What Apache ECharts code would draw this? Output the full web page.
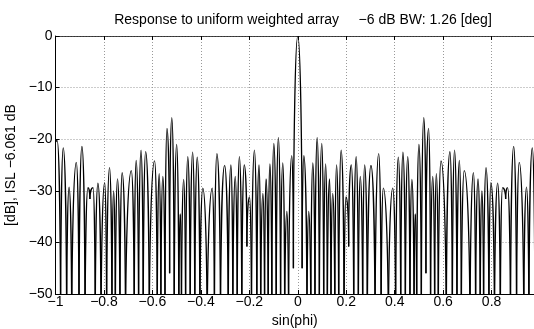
<!DOCTYPE html>
<html style="height: 100%">
<head>
    <meta charset="utf-8">
</head>
<body style="height: 100%; margin: 0; background: #fff">
<div id="container" style="width: 534px; height: 329px"></div>
<script type="text/javascript" src="https://cdn.jsdelivr.net/npm/echarts@6/dist/echarts.min.js"></script>
<script type="text/javascript">
    // key points of the response (lobe peaks and nulls)
    // nulls that run off the bottom of the axes are given as -60
    var sinPhi = [
        -1.000, -0.993, -0.979, -0.968, -0.954, -0.944, -0.933, -0.914, -0.903, -0.891,
        -0.878, -0.866, -0.858, -0.845, -0.836, -0.825, -0.812, -0.797, -0.789, -0.777,
        -0.767, -0.760, -0.753, -0.744, -0.734, -0.725, -0.711, -0.687, -0.675, -0.667,
        -0.657, -0.647, -0.638, -0.628, -0.613, -0.591, -0.580, -0.572, -0.565, -0.557,
        -0.548, -0.540, -0.529, -0.520, -0.510, -0.500, -0.491, -0.485, -0.480, -0.471,
        -0.463, -0.454, -0.444, -0.434, -0.425, -0.415, -0.404, -0.392, -0.374, -0.353,
        -0.344, -0.334, -0.319, -0.302, -0.287, -0.276, -0.268, -0.258, -0.250, -0.241,
        -0.231, -0.221, -0.210, -0.199, -0.191, -0.179, -0.169, -0.160, -0.153, -0.144,
        -0.137, -0.131, -0.122, -0.115, -0.107, -0.099, -0.089, -0.080, -0.071, -0.062,
        -0.054, -0.045, -0.038, -0.025, -0.018,
        0,
        0.018, 0.025, 0.038, 0.045, 0.054, 0.062, 0.071, 0.080, 0.089, 0.099,
        0.107, 0.115, 0.122, 0.131, 0.137, 0.144, 0.153, 0.160, 0.169, 0.179,
        0.191, 0.199, 0.210, 0.221, 0.231, 0.241, 0.250, 0.258, 0.268, 0.276,
        0.287, 0.302, 0.319, 0.334, 0.344, 0.353, 0.374, 0.392, 0.404, 0.415,
        0.425, 0.434, 0.444, 0.454, 0.463, 0.471, 0.480, 0.485, 0.491, 0.500,
        0.510, 0.520, 0.529, 0.540, 0.548, 0.557, 0.565, 0.572, 0.580, 0.591,
        0.613, 0.628, 0.638, 0.647, 0.657, 0.667, 0.675, 0.687, 0.711, 0.725,
        0.734, 0.744, 0.753, 0.760, 0.767, 0.777, 0.789, 0.797, 0.812, 0.825,
        0.836, 0.845, 0.858, 0.866, 0.878, 0.891, 0.903, 0.914, 0.933, 0.944,
        0.954, 0.968, 0.979, 0.993, 1.000
    ];
    var responseDb = [
        -20.6, -20.3, -60, -21.7, -60, -29.3, -60, -24.5, -60, -21.4,
        -60, -29.4, -31.6, -29.4, -60, -28.5, -60, -28.4, -60, -25.5,
        -60, -30.0, -60, -27.7, -60, -26.5, -60, -26.1, -60, -24.1,
        -60, -22.1, -60, -22.4, -60, -24.2, -60, -26.7, -60, -27.2,
        -60, -17.9, -46, -15.8, -60, -21.0, -60, -34.5, -60, -27.8,
        -60, -23.4, -60, -22.5, -60, -23.5, -60, -29.5, -60, -29.5,
        -60, -22.8, -60, -25.1, -60, -25.0, -60, -27.2, -60, -23.4,
        -60, -25.0, -40.8, -31.2, -60, -22.1, -60, -25.0, -60, -30.5,
        -60, -27.7, -60, -24.8, -60, -20.8, -60, -19.7, -60, -24.6,
        -60, -34.0, -60, -23.2, -45,
        0,
        -45, -23.2, -60, -34.0, -60, -24.6, -60, -19.7, -60, -20.8,
        -60, -24.8, -60, -27.7, -60, -30.5, -60, -25.0, -60, -22.1,
        -60, -31.2, -40.8, -25.0, -60, -23.4, -60, -27.2, -60, -25.0,
        -60, -25.1, -60, -22.8, -60, -29.5, -60, -29.5, -60, -23.5,
        -60, -22.5, -60, -23.4, -60, -27.8, -60, -34.5, -60, -21.0,
        -60, -15.8, -46, -17.9, -60, -27.2, -60, -26.7, -60, -24.2,
        -60, -22.4, -60, -22.1, -60, -24.1, -60, -26.1, -60, -26.5,
        -60, -27.7, -60, -30.0, -60, -25.5, -60, -28.4, -60, -28.5,
        -60, -29.4, -31.6, -29.4, -60, -21.4, -60, -24.5, -60, -29.3,
        -60, -21.7, -60, -20.3, -20.6
    ];
    // visible x range (the picture is cut just short of sin(phi) = 1)
    var xMin = -1, xMax = 0.975;
    var yMin = -50, yMax = 0;

    var titleText = 'Response to uniform weighted array     \u22126 dB BW: 1.26 [deg]';
    var yName = '[dB], ISL \u22126.061 dB';
    var xName = 'sin(phi)';

    var font = 'Liberation Sans';
    var fontSize = 14;

    // consecutive key points joined as segments
    var segments = [];
    for (var i = 0; i < sinPhi.length - 1; i++) {
        segments.push([sinPhi[i], responseDb[i], sinPhi[i + 1], responseDb[i + 1]]);
    }

    function fmt(v) {
        return String(v).replace('-', '\u2212');
    }

    // each segment: round over the higher end, steep into the lower end
    function renderLobe(params, api) {
        var a = api.coord([api.value(0), api.value(1)]);
        var b = api.coord([api.value(2), api.value(3)]);
        var aTop = a[1] <= b[1];
        var top = aTop ? a : b, bot = aTop ? b : a;
        var k = 0.55;
        var cpTop = [top[0] + (bot[0] - top[0]) * k, top[1]];
        var cpBot = [bot[0], bot[1] - (bot[1] - top[1]) * k];
        var c1 = aTop ? cpTop : cpBot;
        var c2 = aTop ? cpBot : cpTop;
        return {
            type: 'bezierCurve',
            shape: {
                x1: a[0], y1: a[1], x2: b[0], y2: b[1],
                cpx1: c1[0], cpy1: c1[1], cpx2: c2[0], cpy2: c2[1]
            },
            style: { stroke: '#000', lineWidth: 1.3, fill: null }
        };
    }

    var dom = document.getElementById('container');
    var myChart = echarts.init(dom, null, { renderer: 'canvas' });

    var gridStyle = { color: '#999', width: 1, type: [1, 2] };

    var option = {
        animation: false,
        backgroundColor: '#fff',
        title: {
            text: titleText,
            left: 298,
            textAlign: 'center',
            top: 8,
            textStyle: { fontFamily: font, fontSize: fontSize, fontWeight: 'normal', color: '#000' }
        },
        grid: { left: 55.5, right: 0, top: 36, bottom: 35, outerBoundsMode: 'none', containLabel: false },
        xAxis: [{
            type: 'value',
            min: xMin,
            max: xMax,
            interval: 0.2,
            name: xName,
            nameLocation: 'middle',
            nameGap: 18,
            nameTextStyle: { fontFamily: font, fontSize: fontSize, color: '#000' },
            axisLine: { onZero: false, lineStyle: { color: '#000', width: 1 } },
            axisTick: { inside: true, length: 4, lineStyle: { color: '#000' } },
            axisLabel: {
                margin: 1, fontFamily: font, fontSize: fontSize, color: '#000',
                showMaxLabel: false,
                formatter: function (v) { return fmt(+v.toFixed(1)); }
            },
            splitLine: { show: true, lineStyle: gridStyle }
        }, {
            type: 'value',
            position: 'top',
            min: xMin,
            max: xMax,
            interval: 0.2,
            axisLine: { onZero: false, lineStyle: { color: '#333', width: 1, type: [2, 1] } },
            axisTick: { inside: true, length: 4, lineStyle: { color: '#000' } },
            axisLabel: { show: false },
            splitLine: { show: false }
        }],
        yAxis: {
            type: 'value',
            min: yMin,
            max: yMax,
            interval: 10,
            name: yName,
            nameLocation: 'middle',
            nameGap: 23,
            nameRotate: 90,
            nameTextStyle: { fontFamily: font, fontSize: fontSize, color: '#000' },
            axisLine: { show: true, onZero: false, lineStyle: { color: '#000', width: 1 } },
            axisTick: { show: true, inside: true, length: 4, lineStyle: { color: '#000' } },
            axisLabel: {
                margin: 3, fontFamily: font, fontSize: fontSize, color: '#000',
                formatter: function (v) { return fmt(v); }
            },
            splitLine: { show: true, lineStyle: gridStyle }
        },
        series: [{
            type: 'custom',
            name: 'response',
            clip: true,
            silent: true,
            renderItem: renderLobe,
            encode: { x: [0, 2], y: [1, 3] },
            data: segments
        }]
    };
    myChart.setOption(option);
</script>
</body>
</html>
